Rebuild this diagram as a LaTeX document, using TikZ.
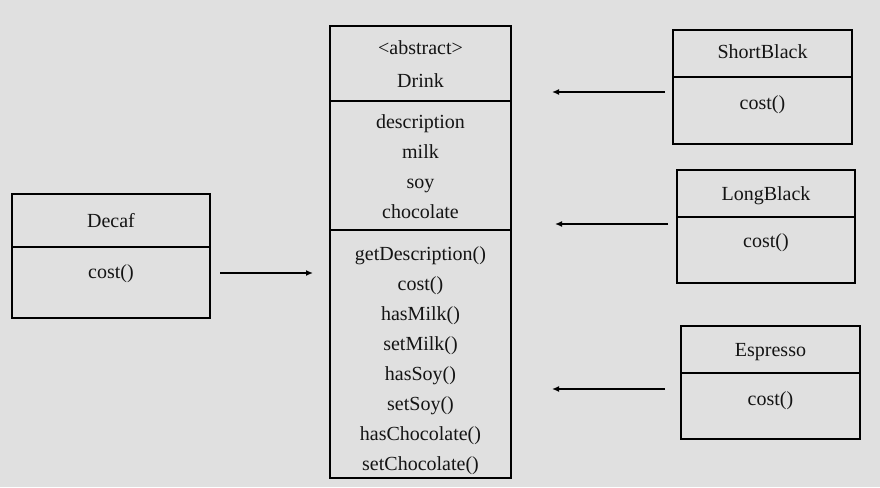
\documentclass[tikz,border=0pt]{standalone}
\usepackage{fontspec}
\setmainfont{Liberation Serif}
\usetikzlibrary{arrows.meta}
\definecolor{bg}{HTML}{E0E0E0}
\definecolor{ink}{HTML}{141414}
\begin{document}
\begin{tikzpicture}[x=1pt,y=-1pt,
  part/.style={draw=black, line width=2.8pt, fill=bg, inner sep=0pt, outer sep=0pt, anchor=north west},
  txt/.style={anchor=base, inner sep=0pt, text=ink, font=\fontsize{20}{23}\selectfont},
  conn/.style={line width=1.4pt, -{Latex[length=7pt,width=6pt]}}]
\fill[bg] (0,0) rectangle (880,487);
\useasboundingbox (0,0) rectangle (880,487);
% Drink
\node[part, minimum width=181pt, minimum height=75pt] (dh) at (330,26) {};
\node[part, minimum width=181pt, minimum height=129pt] (da) at (330,101) {};
\node[part, minimum width=181pt, minimum height=248pt] (dm) at (330,230) {};
\node[txt] (dt1) at (420.5,55) {<abstract>};
\node[txt] (dt2) at (420.5,87) {Drink};
\node[txt] (a1) at (420.5,128) {description};
\node[txt] (a2) at (420.5,158) {milk};
\node[txt] (a3) at (420.5,188) {soy};
\node[txt] (a4) at (420.5,218) {chocolate};
\node[txt] (m1) at (420.5,260) {getDescription()};
\node[txt] (m2) at (420.5,290) {cost()};
\node[txt] (m3) at (420.5,320) {hasMilk()};
\node[txt] (m4) at (420.5,350) {setMilk()};
\node[txt] (m5) at (420.5,380) {hasSoy()};
\node[txt] (m6) at (420.5,410) {setSoy()};
\node[txt] (m7) at (420.5,440) {hasChocolate()};
\node[txt] (m8) at (420.5,470) {setChocolate()};
% Decaf
\node[part, minimum width=198pt, minimum height=53pt] (ch) at (12,194) {};
\node[part, minimum width=198pt, minimum height=71pt] (cm) at (12,247) {};
\node[txt] (ct) at (111,227) {Decaf};
\node[txt] (cc) at (111,278) {cost()};
% ShortBlack
\node[part, minimum width=179pt, minimum height=47pt] (sh) at (673,30) {};
\node[part, minimum width=179pt, minimum height=67pt] (sm) at (673,77) {};
\node[txt] (st) at (762.5,59) {ShortBlack};
\node[txt] (sc) at (762.5,109) {cost()};
% LongBlack
\node[part, minimum width=178pt, minimum height=47pt] (lh) at (677,170) {};
\node[part, minimum width=178pt, minimum height=66pt] (lm) at (677,217) {};
\node[txt] (lt) at (766,200) {LongBlack};
\node[txt] (lc) at (766,247) {cost()};
% Espresso
\node[part, minimum width=179pt, minimum height=47pt] (eh) at (681,326) {};
\node[part, minimum width=179pt, minimum height=66pt] (em) at (681,373) {};
\node[txt] (et) at (770.5,356) {Espresso};
\node[txt] (ec) at (770.5,405) {cost()};
% arrows
\coordinate (c1s) at (220,273); \coordinate (c1e) at (313,273);
\coordinate (c2s) at (665,92);  \coordinate (c2e) at (552,92);
\coordinate (c3s) at (668,224); \coordinate (c3e) at (555,224);
\coordinate (c4s) at (665,389); \coordinate (c4e) at (552,389);
\draw[conn] (c1s) -- (c1e);
\draw[conn] (c2s) -- (c2e);
\draw[conn] (c3s) -- (c3e);
\draw[conn] (c4s) -- (c4e);
\end{tikzpicture}
\end{document}
